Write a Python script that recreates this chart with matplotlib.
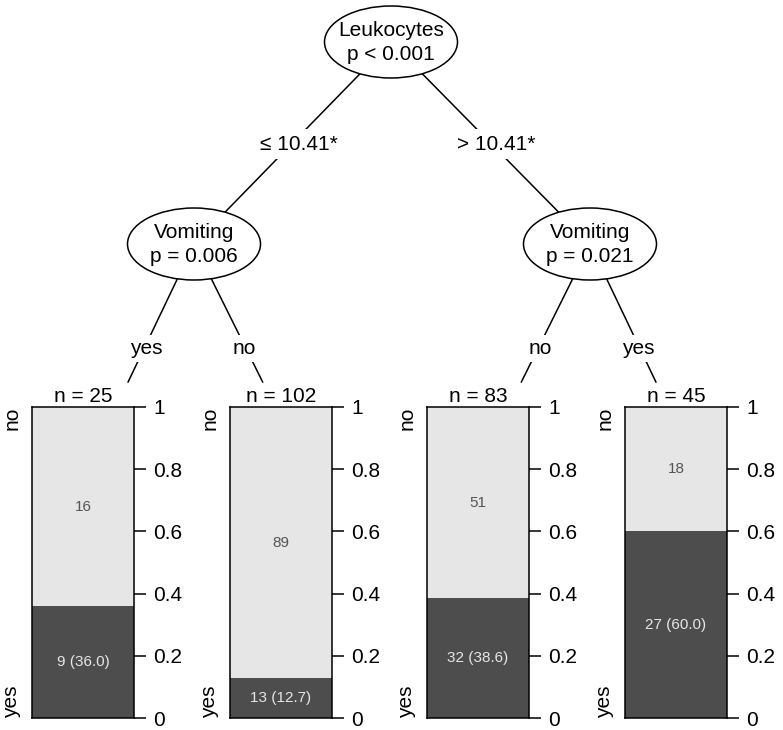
import matplotlib
matplotlib.use('Agg')
import matplotlib.pyplot as plt
from matplotlib.patches import Ellipse

plt.rcParams['font.family'] = ['Liberation Sans', 'DejaVu Sans']

# data
node_vars = ['Leukocytes', 'Vomiting', 'Vomiting']
node_pvals = ['p < 0.001', 'p = 0.006', 'p = 0.021']
split_labels = ['\u2264 10.41*', '> 10.41*']
leaf_edge_labels = ['yes', 'no', 'no', 'yes']
leaf_n = [25, 102, 83, 45]
leaf_no = [16, 89, 51, 18]
leaf_yes = [9, 13, 32, 27]
leaf_yes_pct = [36.0, 12.7, 38.6, 60.0]
class_levels = ['no', 'yes']
tick_vals = [0, 0.2, 0.4, 0.6, 0.8, 1]
tick_labels = ['0', '0.2', '0.4', '0.6', '0.8', '1']

dark = '#4D4D4D'
light = '#E6E6E6'

W, H = 783, 730
fig = plt.figure(figsize=(W / 100, H / 100), dpi=100)
bg = fig.add_axes([0, 0, 1, 1])
bg.set_xlim(0, W)
bg.set_ylim(H, 0)
bg.axis('off')

fs = 15
lw = 1.1

# layout (pixels)
root = (391, 42)
inner = [(194, 244), (590, 244)]
leaf_target_x = [98, 294, 490, 686]
leaf_target_y = 445
line_stop_y = 382
bar_left = [32, 230, 427, 625]
bar_w = 102
bar_top, bar_bottom = 407, 718
ell_w, ell_h = 133, 72

# root -> inner edges
for (cx, cy), lab in zip(inner, split_labels):
    bg.plot([root[0], cx], [root[1], cy], color='black', lw=lw, zorder=1)
    mx, my = (root[0] + cx) / 2 + 6, (root[1] + cy) / 2 + 1
    bg.text(mx, my, lab, ha='center', va='center', fontsize=fs, zorder=3,
            bbox=dict(facecolor='white', edgecolor='none', pad=4))

# inner -> leaf edges
for i, lab in enumerate(leaf_edge_labels):
    cx, cy = inner[i // 2]
    tx = leaf_target_x[i]
    t = (line_stop_y - cy) / (leaf_target_y - cy)
    ex = cx + (tx - cx) * t
    bg.plot([cx, ex], [cy, line_stop_y], color='black', lw=lw, zorder=1)
    mx, my = (cx + tx) / 2, (cy + leaf_target_y) / 2 + 4
    bg.text(mx, my, lab, ha='center', va='center', fontsize=fs, zorder=3,
            bbox=dict(facecolor='white', edgecolor='none', pad=3))

# nodes
for (cx, cy), v, p in zip([root] + inner, node_vars, node_pvals):
    bg.add_patch(Ellipse((cx, cy), ell_w, ell_h, facecolor='white',
                         edgecolor='black', lw=lw, zorder=2))
    bg.text(cx, cy - 11, v, ha='center', va='center', fontsize=fs, zorder=3)
    bg.text(cx, cy + 13, p, ha='center', va='center', fontsize=fs, zorder=3)

# leaves
for i in range(len(leaf_n)):
    x0 = bar_left[i]
    ax = fig.add_axes([x0 / W, (H - bar_bottom) / H, bar_w / W,
                       (bar_bottom - bar_top) / H])
    n = leaf_n[i]
    p_yes = leaf_yes[i] / n
    p_no = leaf_no[i] / n
    ax.bar(0, p_yes, width=1, color=dark, linewidth=0)
    ax.bar(0, p_no, width=1, bottom=p_yes, color=light, linewidth=0)
    ax.set_xlim(-0.5, 0.5)
    ax.set_ylim(0, 1)
    ax.set_xticks([])
    ax.yaxis.tick_right()
    ax.set_yticks(tick_vals)
    ax.set_yticklabels(tick_labels, fontsize=fs)
    ax.tick_params(axis='y', length=8.6, width=lw, pad=5, right=True, left=False)
    for s in ax.spines.values():
        s.set_linewidth(lw)
        s.set_color('black')
    ax.text(0, p_yes + p_no / 2, str(leaf_no[i]), ha='center', va='center',
            fontsize=11, color='#555555')
    ax.text(0, p_yes / 2, '%d (%.1f)' % (leaf_yes[i], leaf_yes_pct[i]),
            ha='center', va='center', fontsize=11, color=light)

    bg.text(x0 + bar_w / 2, bar_top - 11, 'n = %d' % n, ha='center',
            va='center', fontsize=fs)
    bg.text(x0 - 20, bar_top, class_levels[0], rotation=90, ha='center',
            va='top', fontsize=fs)
    bg.text(x0 - 20, bar_bottom, class_levels[1], rotation=90, ha='center',
            va='bottom', fontsize=fs)

fig.savefig('out.png', dpi=100)
